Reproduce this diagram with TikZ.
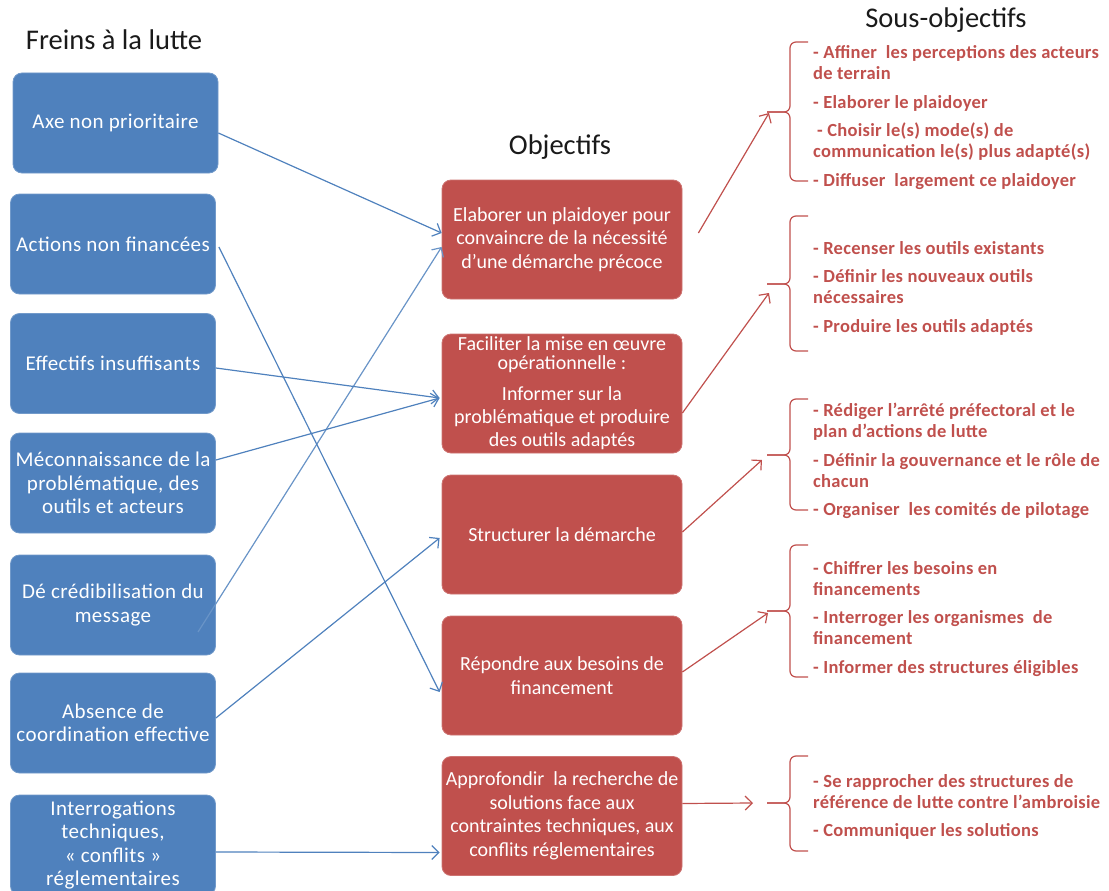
\documentclass[tikz,border=0pt]{standalone}
\usepackage{fontspec}
\setmainfont{Carlito}
\usetikzlibrary{arrows.meta}
\definecolor{bluebox}{HTML}{4F81BD}
\definecolor{redbox}{HTML}{C0504D}
\definecolor{titlecol}{HTML}{1A1A1A}
\newcommand\drawsubbrace[3]{%
  \draw[bracestyle] (808,#1) -- (790,#1) -- (790,#2) -- (767,#2);
  \draw[bracestyle] (767,#2) -- (790,#2) -- (790,#3) -- (808,#3);
  \coordinate (n#2) at (767,#2);}
\begin{document}
\begin{tikzpicture}[x=1pt,y=-1pt,
  fbox/.style={rounded corners=9pt, fill=bluebox, draw=bluebox!80!white, line width=0.8pt,
    text=white, minimum width=205pt, minimum height=100pt, align=center, inner sep=1pt,
    font=\fontsize{21}{23.5}\selectfont\addfontfeature{LetterSpace=2}},
  obox/.style={rounded corners=9pt, fill=redbox, draw=redbox!80!white, line width=0.8pt,
    text=white, minimum width=240pt, minimum height=119pt, align=center, inner sep=1pt,
    font=\fontsize{20}{23.5}\selectfont},
  titlestyle/.style={text=titlecol, font=\fontsize{28.5}{32}\selectfont, inner sep=0pt},
  subtext/.style={text=redbox, font=\bfseries\fontsize{18.5}{21}\selectfont\addfontfeature{LetterSpace=1.5}, align=left,
    anchor=north west, inner sep=0pt},
  bluearrow/.style={draw=bluebox, line width=1.2pt, -{Straight Barb[length=7pt,width=14pt,line width=1.2pt]}},
  redarrow/.style={draw=redbox, line width=1.2pt, -{Straight Barb[length=7pt,width=14pt,line width=1.2pt]}},
  bracestyle/.style={draw=redbox, line width=1.2pt, rounded corners=6pt}
]
\useasboundingbox (0,0) rectangle (1109,891);

% titles
\node[titlestyle] (t1) at (114,40) {Freins à la lutte};
\node[titlestyle] (t2) at (560,147) {Objectifs};
\node[titlestyle] (t3) at (946,20) {Sous-objectifs};

% left column
\node[fbox] (f1) at (115.5,123) {Axe non prioritaire};
\node[fbox] (f2) at (113,244) {Actions non financées};
\node[fbox] (f3) at (113,363.5) {Effectifs insuffisants};
\node[fbox] (f4) at (113,483) {Méconnaissance de la\\problématique, des\\outils et acteurs};
\node[fbox] (f5) at (113,605) {Dé crédibilisation du\\message};
\node[fbox] (f6) at (113,723) {Absence de\\coordination effective};
\node[fbox] (f7) at (113,845) {Interrogations\\techniques,\\«~conflits~»\\réglementaires};

% middle column
\node[obox] (m1) at (562,239.5) {Elaborer un plaidoyer pour\\convaincre de la nécessité\\d’une démarche précoce};
\node[obox, text depth=4pt] (m2) at (562,393.5) {Faciliter la mise en œuvre\\[-4pt]opérationnelle :\\[7pt]Informer sur la\\problématique et produire\\[-1pt]des outils adaptés};
\node[obox] (m3) at (562,534.5) {Structurer la démarche};
\node[obox] (m4) at (562,675.5) {Répondre aux besoins de\\financement};
\node[obox] (m5) at (562,816) {Approfondir\ \ la recherche de\\solutions face aux\\contraintes techniques, aux\\conflits réglementaires};

% braces
\drawsubbrace{42}{112}{181}
\drawsubbrace{216}{284}{351}
\drawsubbrace{399}{455}{510}
\drawsubbrace{545}{611}{677}
\drawsubbrace{756}{803}{851}

% sub-objectives
\node[subtext] (s1) at (813,45.5) {- Affiner\ \ les perceptions des acteurs\\de terrain\\[7.5pt]- Elaborer le plaidoyer\\[7.5pt]\hspace{4pt}- Choisir le(s) mode(s) de\\communication le(s) plus adapté(s)\\[7.5pt]- Diffuser\ \ largement ce plaidoyer};
\node[subtext] (s2) at (813,241) {- Recenser les outils existants\\[7.5pt]- Définir les nouveaux outils\\nécessaires\\[7.5pt]- Produire les outils adaptés};
\node[subtext] (s3) at (813,403) {- Rédiger l’arrêté préfectoral et le\\plan d’actions de lutte\\[7.5pt]- Définir la gouvernance et le rôle de\\chacun\\[7.5pt]- Organiser\ \ les comités de pilotage};
\node[subtext] (s4) at (813,561) {- Chiffrer les besoins en\\financements\\[7.5pt]- Interroger les organismes\ \ de\\financement\\[7.5pt]- Informer des structures éligibles};
\node[subtext] (s5) at (813,774) {- Se rapprocher des structures de\\référence de lutte contre l’ambroisie\\[7.5pt]- Communiquer les solutions};

% blue connectors
\coordinate (f5start) at (198,632);
\draw[bluearrow] ([yshift=-10pt]f1.east) -- ([yshift=6.5pt]m1.west);
\draw[bluearrow, draw=bluebox!85!white] (f5start) -- ([yshift=-7.5pt]m1.west);
\draw[bluearrow] ([xshift=3pt,yshift=-3pt]f2.east) -- ([xshift=-2pt,yshift=-16.5pt]m4.west);
\draw[bluearrow] ([yshift=-4.5pt]f3.east) -- ([xshift=-2pt,yshift=-4.5pt]m2.west);
\draw[bluearrow] ([yshift=23pt]f4.east) -- ([xshift=-2pt,yshift=-4.5pt]m2.west);
\draw[bluearrow] ([yshift=5pt]f6.east) -- ([xshift=-2pt,yshift=-3.5pt]m3.west);
\draw[bluearrow] ([yshift=-7pt]f7.east) -- ([xshift=-2pt,yshift=-36.5pt]m5.west);

% red connectors
\draw[redarrow] ([xshift=16pt,yshift=6.5pt]m1.east) -- ([xshift=2pt,yshift=-1pt]n112);
\draw[redarrow] ([yshift=-19.5pt]m2.east) -- ([xshift=2pt,yshift=-9pt]n284);
\draw[redarrow] ([yshift=2.5pt]m3.east) -- ([xshift=-5pt,yshift=-5pt]n455);
\draw[redarrow] ([yshift=3.5pt]m4.east) -- ([xshift=1pt,yshift=-2pt]n611);
\draw[redarrow] ([yshift=12.5pt]m5.east) -- ([xshift=-14pt]n803);
\end{tikzpicture}
\end{document}
